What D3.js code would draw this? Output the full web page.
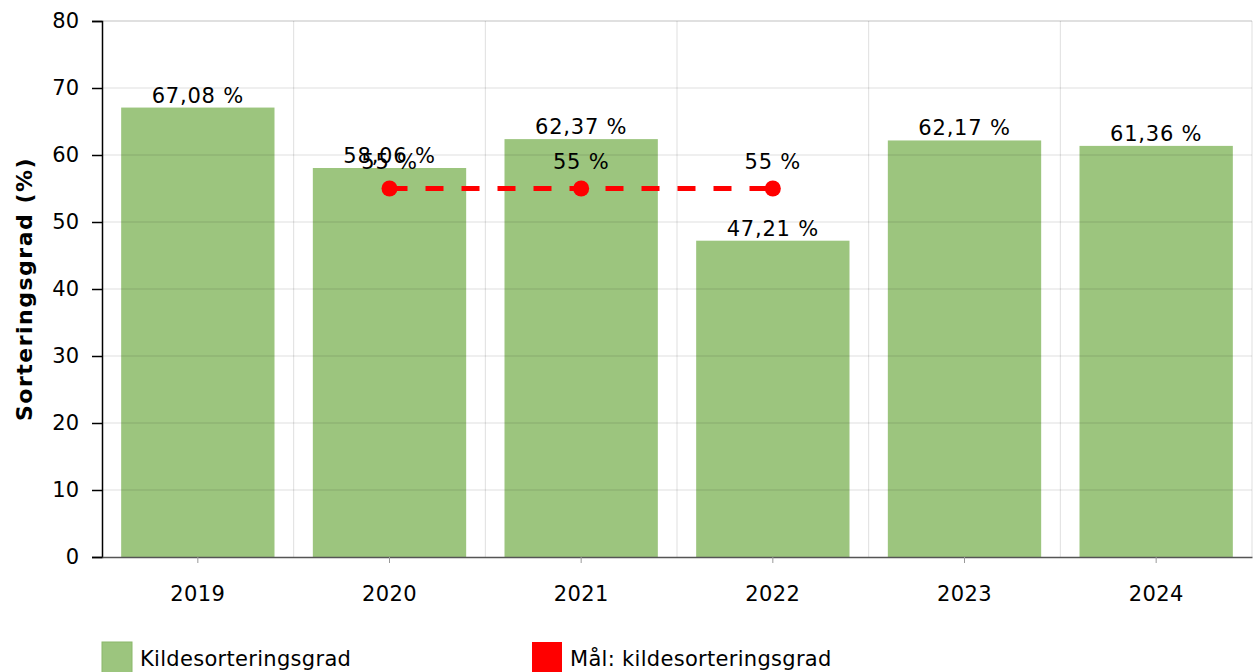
<!DOCTYPE html>
<html>
<head>
<meta charset="utf-8">
<script src="https://cdn.jsdelivr.net/npm/d3@7"></script>
<style>
  body { margin: 0; background: #fff; }
  text { font-family: "DejaVu Sans", Verdana, sans-serif; fill: #000; }
</style>
</head>
<body>
<div id="chart"></div>
<script>
const years = ['2019', '2020', '2021', '2022', '2023', '2024'];
const sortingRate = [67.08, 58.06, 62.37, 47.21, 62.17, 61.36];
const targetYears = ['2020', '2021', '2022'];
const targetValues = [55, 55, 55];
const yTicks = [0, 10, 20, 30, 40, 50, 60, 70, 80];
const legendLabels = ['Kildesorteringsgrad', 'Mål: kildesorteringsgrad'];

const W = 1254, H = 672;
const margin = { top: 21, right: 2, bottom: 115, left: 102 };
const width = W - margin.left - margin.right,
  height = H - margin.top - margin.bottom;

const fmt = v => String(v).replace('.', ',') + ' %';

const svg = d3.select('#chart').append('svg')
  .attr('width', W).attr('height', H);

const g = svg.append('g')
  .attr('transform', `translate(${margin.left},${margin.top})`);

const xc = d3.scaleBand().domain(years).range([0, width]);
const y = d3.scaleLinear().domain([0, 80]).range([height, 0]);
const cx = d => xc(d) + xc.bandwidth() / 2;

// bars
g.selectAll('.bar').data(years).enter().append('rect')
  .attr('class', 'bar')
  .attr('x', d => xc(d) + xc.bandwidth() * 0.1)
  .attr('width', xc.bandwidth() * 0.8)
  .attr('y', (d, i) => y(sortingRate[i]))
  .attr('height', (d, i) => height - y(sortingRate[i]))
  .attr('fill', '#9cc57e');

// grid over bars
g.selectAll('.hgrid').data(yTicks.slice(1)).enter().append('line')
  .attr('x1', 0).attr('x2', width)
  .attr('y1', d => y(d)).attr('y2', d => y(d))
  .attr('stroke', '#000').attr('stroke-opacity', 0.13);
g.selectAll('.vgrid').data(years).enter().append('line')
  .attr('x1', d => xc(d) + xc.bandwidth()).attr('x2', d => xc(d) + xc.bandwidth())
  .attr('y1', 0).attr('y2', height)
  .attr('stroke', '#000').attr('stroke-opacity', 0.13);

// bar labels
g.selectAll('.blabel').data(years).enter().append('text')
  .attr('x', d => cx(d))
  .attr('y', (d, i) => y(sortingRate[i]) - 5)
  .attr('text-anchor', 'middle')
  .style('font-size', '21px')
  .style('letter-spacing', '0.8px')
  .text((d, i) => fmt(sortingRate[i]));

// target line
g.append('path')
  .datum(targetYears)
  .attr('d', d3.line().x(d => cx(d)).y((d, i) => y(targetValues[i])))
  .attr('fill', 'none')
  .attr('stroke', '#ff0000')
  .attr('stroke-width', 5)
  .attr('stroke-dasharray', '18,18');

g.selectAll('.tdot').data(targetYears).enter().append('circle')
  .attr('cx', d => cx(d))
  .attr('cy', (d, i) => y(targetValues[i]))
  .attr('r', 8)
  .attr('fill', '#ff0000');

g.selectAll('.tlabel').data(targetYears).enter().append('text')
  .attr('x', d => cx(d))
  .attr('y', (d, i) => y(targetValues[i]) - 20)
  .attr('text-anchor', 'middle')
  .style('font-size', '21px')
  .style('letter-spacing', '0.8px')
  .text((d, i) => fmt(targetValues[i]));

// y axis
g.append('g')
  .call(d3.axisLeft(y).tickValues(yTicks).tickSize(10).tickPadding(13))
  .call(a => a.selectAll('.domain, .tick line').attr('stroke', '#000').attr('stroke-width', 1.5))
  .call(a => a.selectAll('text').style('font-size', '21px').attr('font-family', null));

// x axis
g.append('g')
  .attr('transform', `translate(0,${height})`)
  .call(d3.axisBottom(xc).tickSize(6).tickPadding(23).tickSizeOuter(0))
  .call(a => a.select('.domain').attr('stroke', '#555').attr('stroke-width', 1.5))
  .call(a => a.selectAll('.tick line').attr('stroke', '#999'))
  .call(a => a.selectAll('text').style('font-size', '21px').style('letter-spacing', '0.4px').attr('font-family', null));

// top border
g.append('line').attr('x1', 0).attr('x2', width).attr('y1', 0).attr('y2', 0)
  .attr('stroke', '#000').attr('stroke-opacity', 0.13);

// y title
svg.append('text')
  .attr('transform', `translate(32,${margin.top + height / 2}) rotate(-90)`)
  .attr('text-anchor', 'middle')
  .style('font-size', '22px')
  .style('font-weight', 'bold')
  .style('letter-spacing', '1.5px')
  .text('Sorteringsgrad (%)');

// legend
const legendColors = ['#9cc57e', '#ff0000'];
const legendX = [102, 532];
const lg = svg.selectAll('.legend').data(legendLabels).enter().append('g')
  .attr('transform', (d, i) => `translate(${legendX[i]},642)`);
lg.append('rect').attr('width', 30).attr('height', 32)
  .attr('fill', (d, i) => legendColors[i])
  .attr('stroke', (d, i) => i === 0 ? '#8ab86a' : 'none');
lg.append('text').attr('x', 38).attr('y', 24)
  .style('font-size', '21px')
  .style('letter-spacing', '0.3px')
  .text(d => d);
</script>
</body>
</html>
